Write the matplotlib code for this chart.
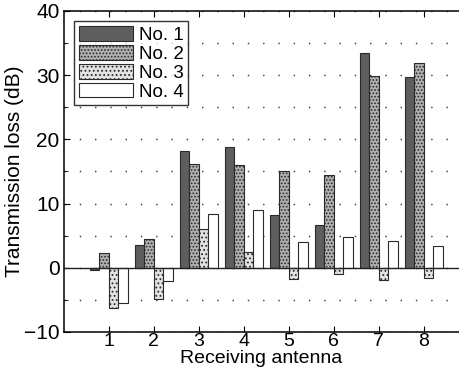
import numpy as np
import matplotlib
matplotlib.use('Agg')
import matplotlib.pyplot as plt
from matplotlib.ticker import MultipleLocator

plt.rcParams['font.family'] = ['Liberation Sans', 'DejaVu Sans']
plt.rcParams['hatch.color'] = '#3a3a3a'
plt.rcParams['hatch.linewidth'] = 0.8

antennas = [1, 2, 3, 4, 5, 6, 7, 8]
series_names = ['No. 1', 'No. 2', 'No. 3', 'No. 4']
no1 = [-0.3, 3.5, 18.2, 18.8, 8.2, 6.6, 33.5, 29.7]
no2 = [2.3, 4.4, 16.2, 16.0, 15.0, 14.4, 29.8, 31.8]
no3 = [-6.3, -4.8, 6.0, 2.5, -1.8, -1.0, -1.95, -1.6]
no4 = [-5.5, -2.0, 8.4, 9.0, 4.0, 4.8, 4.1, 3.4]

faces = ['#5e5e5e', '#b0b0b0', '#e2e2e2', 'white']
hatches = [None, '.....', '....', None]

fig = plt.figure(figsize=(4.59, 3.73), dpi=100)
ax = fig.add_axes([0.139, 0.110, 0.861, 0.861])

x = np.array(antennas, dtype=float)
w = 0.21
offsets = [-1.5 * w, -0.5 * w, 0.5 * w, 1.5 * w]
for vals, off, fc, h, name in zip([no1, no2, no3, no4], offsets, faces, hatches, series_names):
    ax.bar(x + off, vals, width=w, color=fc, edgecolor='#2a2a2a', linewidth=0.8,
           hatch=h, label=name, zorder=3)

ax.axhline(0, color='#222222', linewidth=1.0, zorder=4)

ax.set_xlim(0, 8.78)
ax.set_ylim(-10, 40)
ax.set_xticks(antennas)
ax.yaxis.set_major_locator(MultipleLocator(10))
ax.yaxis.set_minor_locator(MultipleLocator(5))
ax.grid(True, axis='y', which='both', linestyle=(0, (1, 10)), color='#333333', linewidth=1.0)
ax.tick_params(direction='in', which='both', top=True, right=False, labelsize=15, length=4, pad=3)
ax.tick_params(axis='x', labelsize=14, pad=1)
ax.tick_params(which='minor', length=3)
ax.spines['right'].set_visible(False)
for s in ['left', 'top', 'bottom']:
    ax.spines[s].set_linewidth(1.1)

ax.set_xlabel('Receiving antenna', fontsize=14, labelpad=0)
ax.set_ylabel('Transmission loss (dB)', fontsize=15, labelpad=0)

leg = ax.legend(loc='upper left', fontsize=13.5, frameon=True, fancybox=False, edgecolor='black',
                handlelength=2.9, handleheight=0.85, borderpad=0.25, labelspacing=0.05,
                handletextpad=0.3, borderaxespad=0.55)
leg.get_frame().set_linewidth(1.0)

fig.savefig('out.png', dpi=100)
